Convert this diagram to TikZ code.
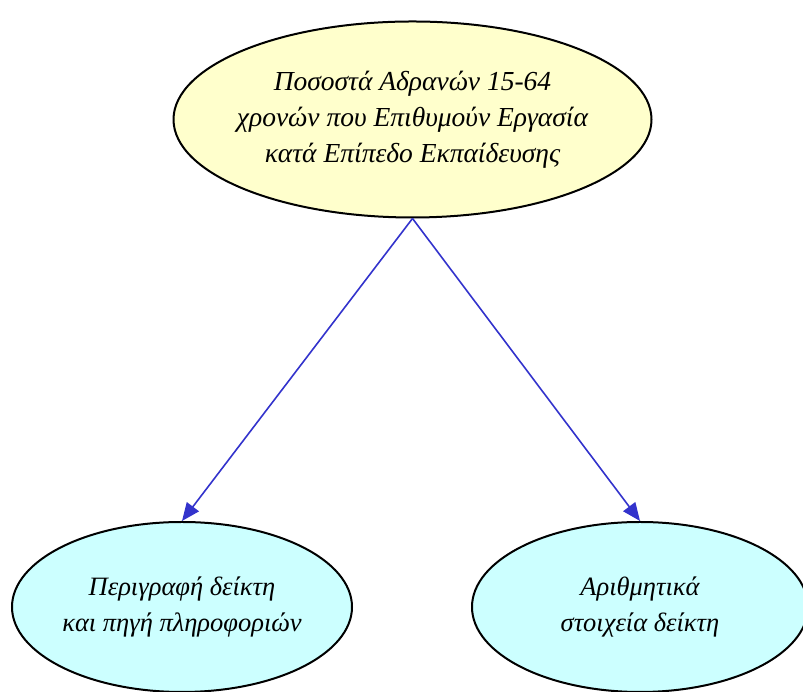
\documentclass[tikz,border=0pt]{standalone}
\usepackage{fontspec}
\setmainfont{Liberation Serif}
\usepackage{tikz}
\usetikzlibrary{positioning,arrows.meta,shapes.geometric}
\usepackage{xcolor}
\definecolor{topfill}{HTML}{FFFFCC}
\definecolor{leaffill}{HTML}{CCFFFF}
\definecolor{linkblue}{HTML}{3333CC}

\begin{document}
\begin{tikzpicture}[
    x=1pt, y=1pt,
    topic/.style={ellipse, draw=black, fill=topfill, line width=2pt,
        minimum width=478pt, minimum height=196pt, inner xsep=-20pt, inner ysep=0pt,
        align=center, font=\fontsize{27.5}{36}\selectfont\itshape},
    leaf/.style={ellipse, draw=black, fill=leaffill, line width=2pt,
        minimum height=170pt, inner xsep=-20pt, inner ysep=0pt,
        align=center, font=\fontsize{26.5}{36}\selectfont\itshape},
    arrow/.style={-{Triangle[length=18pt, width=15pt]}, line width=1.6pt, draw=linkblue}
]
\useasboundingbox (0,0) rectangle (803,692);

% Nodes
\node[topic] (rate) at (412.5,572.5) {Ποσοστά Αδρανών 15-64\\χρονών που Επιθυμούν Εργασία\\κατά Επίπεδο Εκπαίδευσης};
\node[leaf, minimum width=340pt] (descr) at (182,85) {Περιγραφή δείκτη\\και πηγή πληροφοριών};
\node[leaf, minimum width=336pt] (figures) at (640,85) {Αριθμητικά\\στοιχεία δείκτη};

% Arrows
\draw[arrow] (rate.south) -- (descr.north);
\draw[arrow] (rate.south) -- (figures.north);

\end{tikzpicture}
\end{document}
